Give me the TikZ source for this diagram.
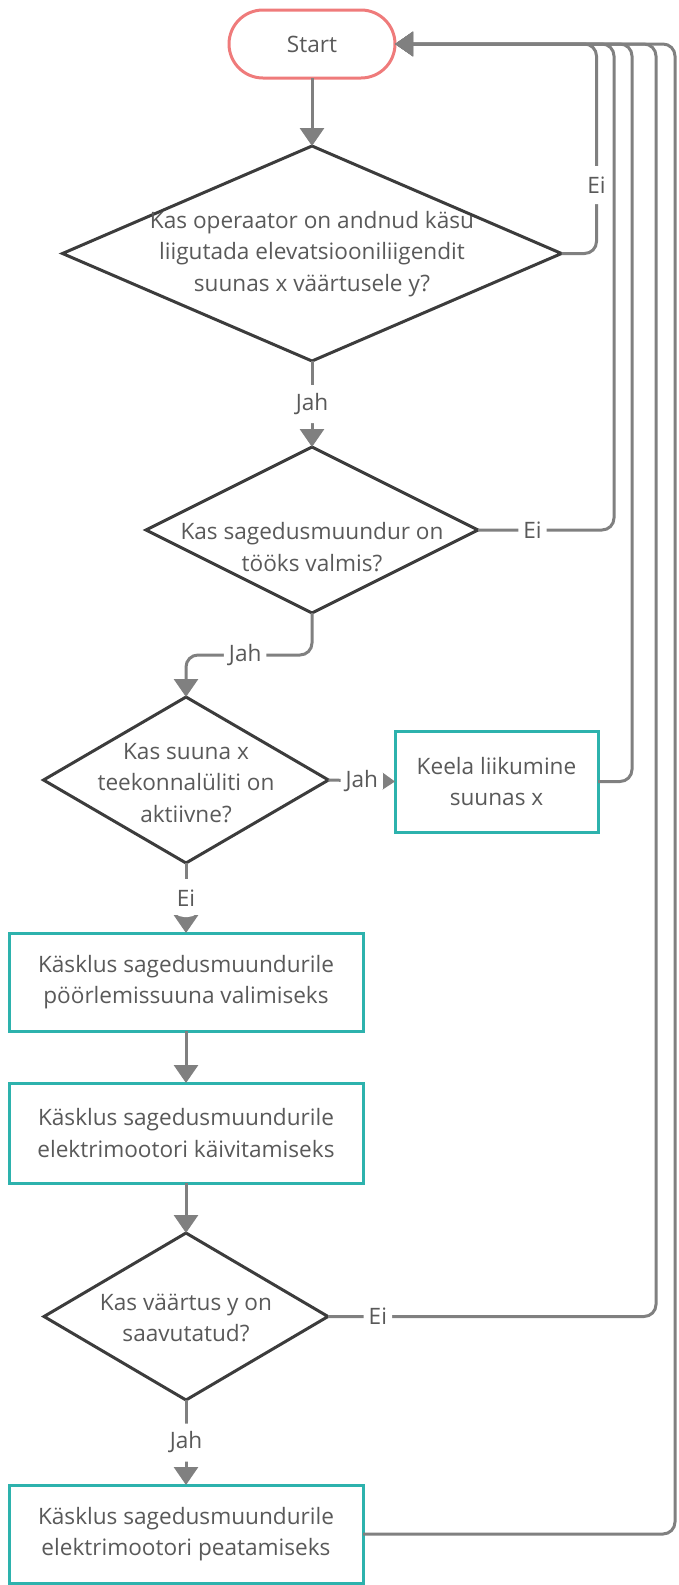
\documentclass[tikz,border=0pt]{standalone}
\usepackage{fontspec}
\setmainfont{Open Sans}
\usetikzlibrary{shapes.geometric,arrows.meta}
\definecolor{conn}{HTML}{808080}
\definecolor{outline}{HTML}{3C3C3C}
\definecolor{boxteal}{HTML}{2DB2AD}
\definecolor{startred}{HTML}{EF7B7B}
\definecolor{txt}{HTML}{595959}
\begin{document}
\begin{tikzpicture}[x=1pt,y=-1pt,
  every node/.style={font=\fontsize{22.6}{31.5}\selectfont, text=txt},
  terminal/.style={draw=startred, line width=3pt, rounded corners=34pt,
    minimum width=166pt, minimum height=68pt, inner sep=0pt, outer sep=0pt},
  decision/.style={diamond, draw=outline, line width=3pt, inner sep=0pt, outer sep=0pt},
  process/.style={draw=boxteal, line width=3pt, inner sep=0pt, outer sep=0pt, align=center},
  qtext/.style={align=center, inner sep=0pt},
  flow/.style={draw=conn, line width=3pt, rounded corners=12pt,
    -{Triangle[length=18pt,width=24pt]}},
  tag/.style={fill=white, inner xsep=5pt, inner ysep=0pt, minimum height=38pt},
]
\useasboundingbox (0,0) rectangle (678,1585);

% shapes
\node[terminal] (start) at (312,44) {Start};
\node[decision, minimum width=499pt, minimum height=215pt] (d1) at (312,253.5) {};
\node[decision, minimum width=332pt, minimum height=166pt] (d2) at (312,530) {};
\node[decision, minimum width=285pt, minimum height=166pt] (d3) at (186,780) {};
\node[process, minimum width=203pt, minimum height=101pt] (keela) at (496.5,781.5) {Keela liikumine\\suunas x};
\node[process, minimum width=354pt, minimum height=98pt] (b1) at (186,982) {Käsklus sagedusmuundurile\\pöörlemissuuna valimiseks};
\node[process, minimum width=354pt, minimum height=100pt] (b2) at (186,1133) {Käsklus sagedusmuundurile\\elektrimootori käivitamiseks};
\node[decision, minimum width=284pt, minimum height=167pt] (d4) at (186,1316.5) {};
\node[process, minimum width=354pt, minimum height=98pt] (b3) at (186,1534) {Käsklus sagedusmuundurile\\elektrimootori peatamiseks};

% decision texts
\node[qtext] (d1t) at (312,254) {Kas operaator on andnud käsu\\liigutada elevatsiooniliigendit\\suunas x väärtusele y?};
\node[qtext] (d2t) at (312,547) {Kas sagedusmuundur on\\tööks valmis?};
\node[qtext] (d3t) at (186,783) {Kas suuna x\\teekonnalüliti on\\aktiivne?};
\node[qtext] (d4t) at (186,1318) {Kas väärtus y on\\saavutatud?};

% return loops back to Start
\draw[flow] (b3.east) -- ++(312,0) |- (start.east);
\draw[flow] (d4.east) -- node[tag, pos=0.152]{Ei} ++(328,0) |- (start.east);
\draw[flow] (keela.east) -- ++(34,0) |- (start.east);
\draw[flow] (d2.east) -- node[tag, pos=0.40]{Ei} ++(136,0) |- (start.east);
\draw[flow] (d1.east) -- ++(35,0) |- node[tag, pos=0.163]{Ei} (start.east);

% main flow
\draw[flow] (start) -- (d1);
\draw[flow] (d1) -- node[tag]{Jah} (d2);
\draw[flow] (d2.south) -- ++(0,42) -| node[tag, pos=0.265]{Jah} (d3.north);
\draw[flow] (d3.east) -- node[tag]{Jah} (keela.west);
\draw[flow] (d3) -- node[tag]{Ei} (b1);
\draw[flow] (b1) -- (b2);
\draw[flow] (b2) -- (d4);
\draw[flow] (d4) -- node[tag]{Jah} (b3);
\end{tikzpicture}
\end{document}
